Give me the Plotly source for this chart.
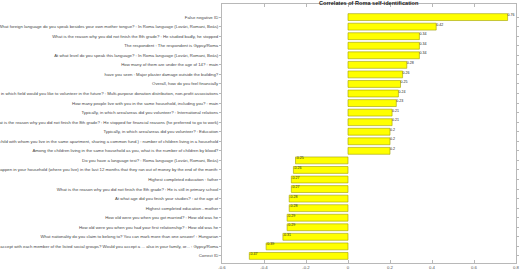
import plotly.graph_objects as go

categories = [
    "False negative ID",
    "What foreign language do you speak besides your own mother tongue? : In Roma language (Lovári, Romani, Beás)",
    "What is the reason why you did not finish the 8th grade? : He studied badly, he stopped",
    "The respondent : The respondent is Gypsy/Roma",
    "At what level do you speak this language? : In Roma language (Lovári, Romani, Beás)",
    "How many of them are under the age of 14? : main",
    "have you seen : Major plaster damage outside the building?",
    "Overall, how do you feel financially",
    "If yes, in which field would you like to volunteer in the future? : Multi-purpose donation distribution, non-profit associations",
    "How many people live with you in the same household, including you? : main",
    "Typically, in which area/areas did you volunteer? : International relations",
    "What is the reason why you did not finish the 8th grade? : He stopped for financial reasons (he preferred to go to work)",
    "Typically, in which area/areas did you volunteer? : Education",
    "How many children live in your household (a child with whom you live in the same apartment, sharing a common fund.) : number of children living in a household",
    "Among the children living in the same household as you, what is the number of children by blood?",
    "Do you have a language test? : Roma language (Lovári, Romani, Beás)",
    "How often did it happen in your household (where you live) in the last 12 months that they ran out of money by the end of the month:",
    "Highest completed education : father",
    "What is the reason why you did not finish the 8th grade? : He is still in primary school",
    "At what age did you finish your studies? : at the age of",
    "Highest completed education - mother",
    "How old were you when you got married? : How old was he",
    "How old were you when you had your first relationship? : How old was he",
    "What nationality do you claim to belong to? You can mark more than one answer! : Hungarian",
    "Would you accept with each member of the listed social groups? Would you accept a ... also in your family, or... : Gypsy/Roma",
    "Correct ID",
]
values = [0.76, 0.42, 0.34, 0.34, 0.34, 0.28, 0.26, 0.25, 0.24, 0.23, 0.21, 0.21, 0.2,
          0.2, 0.2, -0.25, -0.26, -0.27, -0.27, -0.28, -0.28, -0.29, -0.29, -0.31,
          -0.39, -0.47]
value_labels = ["%.2g" % v for v in values]
x_ticks = [-0.6, -0.4, -0.2, 0, 0.2, 0.4, 0.6, 0.8]

fig = go.Figure()
fig.add_trace(go.Bar(
    x=values, y=categories, orientation="h", width=0.72,
    marker=dict(color="#ffff00", line=dict(color="#a0a000", width=0.6)),
    hoverinfo="x+y",
))
fig.add_trace(go.Scatter(
    x=values, y=categories, mode="text", text=value_labels,
    textposition="top right", textfont=dict(size=3.6, color="#222222",
                                            family="Liberation Sans"),
    cliponaxis=False, hoverinfo="skip",
))
fig.update_layout(
    width=520, height=272, showlegend=False,
    margin=dict(l=222, r=4, t=4, b=9, autoexpand=False),
    paper_bgcolor="white", plot_bgcolor="white",
    font=dict(family="Liberation Sans", size=4.3, color="#444444"),
    title=dict(text="<b>Correlates of Roma self-identification</b>",
               x=0.709, xanchor="center", y=0.99, yanchor="middle",
               font=dict(size=5.6, color="#222222")),
    bargap=0.28,
)
fig.update_xaxes(range=[-0.6, 0.8], tickvals=x_ticks,
                 ticktext=[("%g" % t) for t in x_ticks],
                 showgrid=False, zeroline=False, showline=True,
                 linecolor="#b8b8b8", linewidth=0.8, mirror="ticks",
                 ticks="inside", ticklen=3, tickcolor="#b8b8b8",
                 tickfont=dict(size=4.3, color="#555555"), automargin=False)
fig.update_yaxes(type="category", range=[25.74, -1.37],
                 showgrid=False, zeroline=False, showline=True,
                 linecolor="#b8b8b8", linewidth=0.8, mirror="ticks",
                 ticks="outside", ticklen=2, tickcolor="#b8b8b8",
                 tickfont=dict(size=4.3, color="#444444"), automargin=False)
fig.write_html("out.html")
